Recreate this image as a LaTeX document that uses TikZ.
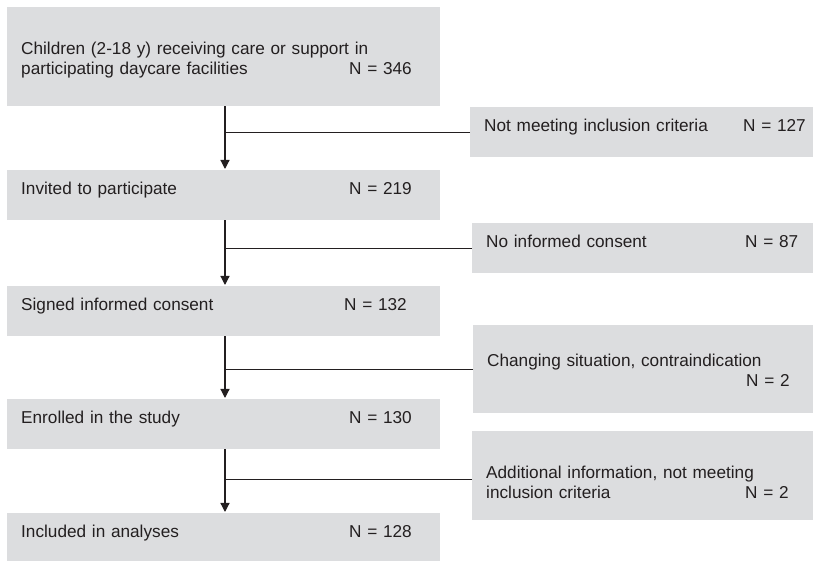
\documentclass[tikz,border=0pt]{standalone}
\usepackage{fontspec}
\setmainfont{Liberation Sans}
\usetikzlibrary{arrows.meta}

\definecolor{boxgray}{RGB}{220,221,223}
\definecolor{inkgray}{RGB}{35,31,32}

\tikzset{
  stage/.style={fill=boxgray, anchor=north west, inner xsep=14pt, inner ysep=0pt,
    align=left, text=inkgray, text height=24pt, text depth=26pt},
  leftbox/.style={stage, text width=405pt},
  rightbox/.style={stage, text width=312pt},
  flow/.style={line width=1.2pt, draw=inkgray, shorten >=1pt,
    -{Triangle[width=9pt,length=9pt]}},
  branch/.style={line width=0.8pt, draw=inkgray}
}
% label with the count at a fixed tab stop
\newcommand{\leftN}[3][328pt]{\makebox[#1][l]{#2}\mbox{N = #3}}
\newcommand{\rightN}[2]{\makebox[259pt][l]{#1}\rlap{N = #2}}

\begin{document}
\begin{tikzpicture}[x=1pt, y=-1pt, font=\fontsize{17.2}{20}\selectfont]
    \useasboundingbox (0,0) rectangle (815,561);

    % Main column
    \node[leftbox, text height=47pt, text depth=52pt] (children) at (7,7)
        {Children (2-18 y) receiving care or support in\\ \leftN{participating daycare facilities}{346}};
    \node[leftbox] (invited) at (7,170) {\leftN{Invited to participate}{219}};
    \node[leftbox] (signed) at (7,286) {\leftN[323pt]{Signed informed consent}{132}};
    \node[leftbox] (enrolled) at (7,399) {\leftN{Enrolled in the study}{130}};
    \node[leftbox, text depth=25pt] (included) at (7,513) {\leftN{Included in analyses}{128}};

    % Exclusions
    \node[rightbox, text width=315pt] (notmeet) at (470,107)
        {\rightN{Not meeting inclusion criteria}{127}};
    \node[rightbox, text width=313pt] (noconsent) at (472,223)
        {\rightN{No informed consent}{87}};
    \node[rightbox, text height=41pt, text depth=47pt] (changing) at (473,325)
        {Changing situation, contraindication\\ \rightN{}{2}};
    \node[rightbox, text width=313pt, text height=47pt, text depth=42pt] (additional) at (472,431)
        {Additional information, not meeting\\ \rightN{inclusion criteria}{2}};

    % Arrows down the column
    \coordinate (stem) at (225,0);
    \draw[flow] (children.south -| stem) -- (invited.north -| stem);
    \draw[flow] (invited.south -| stem) -- (signed.north -| stem);
    \draw[flow] (signed.south -| stem) -- (enrolled.north -| stem);
    \draw[flow] (enrolled.south -| stem) -- (included.north -| stem);

    % Branches to the exclusions
    \draw[branch] (notmeet.west) -- (notmeet.west -| stem);
    \draw[branch] (noconsent.west) -- (noconsent.west -| stem);
    \draw[branch] (changing.west) -- (changing.west -| stem);
    \draw[branch] ([yshift=-4pt]additional.west) -- ([yshift=-4pt]additional.west -| stem);
\end{tikzpicture}
\end{document}
